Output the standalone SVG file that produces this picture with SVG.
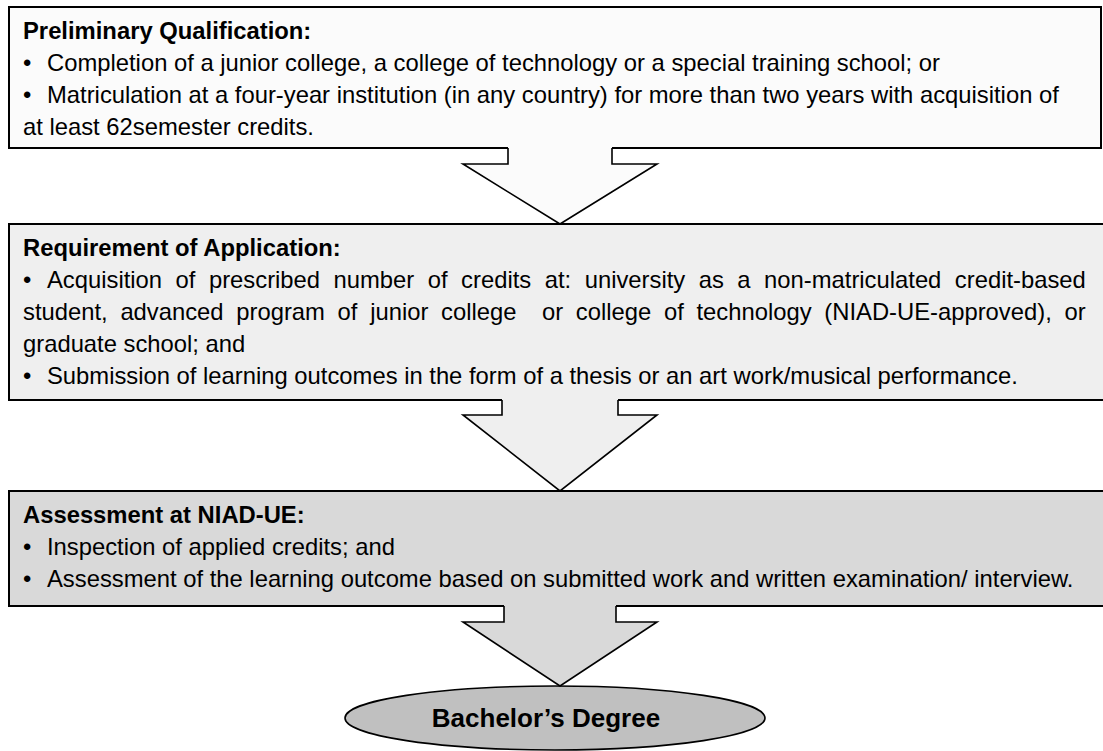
<svg xmlns="http://www.w3.org/2000/svg" width="1103" height="751" viewBox="0 0 1103 751">
  <style>
    .box { stroke: #000; stroke-width: 2; }
    .t { font-family: "Liberation Sans", Arial, sans-serif; font-size: 23.8px; fill: #000; }
    .h { font-weight: bold; }
    .arrow-fill { stroke: none; }
    .arrow-line { fill: none; stroke: #000; stroke-width: 1.6; stroke-linejoin: miter; }
    .deg { font-family: "Liberation Sans", Arial, sans-serif; font-size: 26px; font-weight: bold; fill: #000; }
  </style>
  <rect width="1103" height="751" fill="#ffffff"/>

  <g id="preliminary-qualification">
    <rect class="box" x="9" y="7" width="1092" height="141" fill="#fbfbfb"/>
    <text class="t h" x="23" y="39">Preliminary Qualification:</text>
    <text class="t" x="23" y="71">•</text>
    <text class="t" x="47" y="71">Completion of a junior college, a college of technology or a special training school; or</text>
    <text class="t" x="23" y="103">•</text>
    <text class="t" x="47" y="103">Matriculation at a four-year institution (in any country) for more than two years with acquisition of</text>
    <text class="t" x="23" y="135">at least 62semester credits.</text>
  </g>

  <g id="requirement-of-application">
    <rect class="box" x="9" y="224" width="1100" height="176" fill="#efefef"/>
    <text class="t h" x="23" y="256">Requirement of Application:</text>
    <text class="t" x="23" y="288">•</text>
    <text class="t" x="47" y="288" word-spacing="6.9">Acquisition of prescribed number of credits at: university as a non-matriculated credit-based</text>
    <text class="t" x="23" y="320" word-spacing="6.1" xml:space="preserve">student, advanced program of junior college  or college of technology (NIAD-UE-approved), or</text>
    <text class="t" x="23" y="352">graduate school; and</text>
    <text class="t" x="23" y="384">•</text>
    <text class="t" x="47" y="384">Submission of learning outcomes in the form of a thesis or an art work/musical performance.</text>
  </g>

  <g id="assessment-at-niad-ue">
    <rect class="box" x="9" y="491" width="1100" height="115" fill="#d9d9d9"/>
    <text class="t h" x="23" y="523">Assessment at NIAD-UE:</text>
    <text class="t" x="23" y="555">•</text>
    <text class="t" x="47" y="555">Inspection of applied credits; and</text>
    <text class="t" x="23" y="587">•</text>
    <text class="t" x="47" y="587">Assessment of the learning outcome based on submitted work and written examination/ interview.</text>
  </g>

  <g id="bachelors-degree">
    <ellipse cx="555" cy="718" rx="210" ry="32" fill="#c0c0c0" stroke="#000" stroke-width="1.6"/>
    <text class="deg" x="546" y="727" text-anchor="middle">Bachelor’s Degree</text>
  </g>

  <!-- block arrows between the stages; each fill covers the border of the box above -->
  <g id="connectors">
    <polygon class="arrow-fill" fill="#fbfbfb" points="508,145 612,145 612,164 657,164 560,224 463,164 508,164"/>
    <path class="arrow-line" d="M508,148 V164 H463 L560,224 L657,164 H612 V148"/>

    <polygon class="arrow-fill" fill="#efefef" points="502,397 618,397 618,415 657,415 560,491 463,415 502,415"/>
    <path class="arrow-line" d="M502,400 V415 H463 L560,491 L657,415 H618 V400"/>

    <polygon class="arrow-fill" fill="#d9d9d9" points="504,603 616,603 616,622 657,622 560,686 463,622 504,622"/>
    <path class="arrow-line" d="M504,606 V622 H463 L560,686 L657,622 H616 V606"/>
  </g>
</svg>
